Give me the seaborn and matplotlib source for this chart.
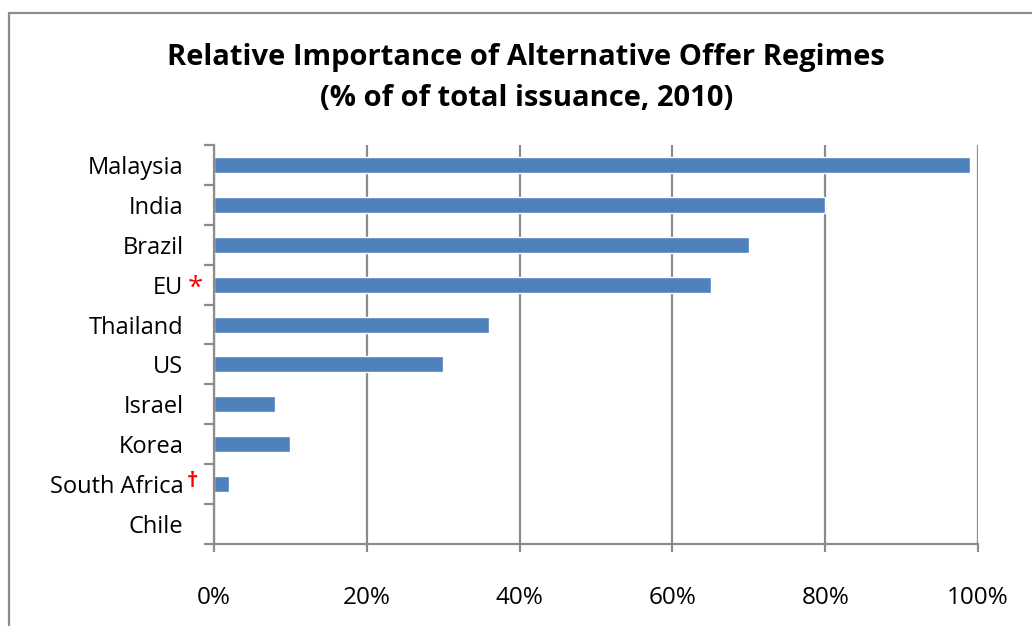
import numpy as np
import pandas as pd
import matplotlib
matplotlib.use("Agg")
import matplotlib.pyplot as plt
from matplotlib.lines import Line2D
from matplotlib.ticker import FixedLocator, PercentFormatter
import seaborn as sns

countries = ["Malaysia", "India", "Brazil", "EU", "Thailand", "US",
             "Israel", "Korea", "South Africa", "Chile"]
shares = [99, 80, 70, 65, 36, 30, 8, 10, 2, 0]
x_ticks = [0, 20, 40, 60, 80, 100]

sns.set_style("white")
plt.rcParams["font.family"] = ["Open Sans", "DejaVu Sans"]
plt.rcParams["text.color"] = "black"
plt.rcParams["xtick.labelcolor"] = "black"
plt.rcParams["ytick.labelcolor"] = "black"

grid_color = "#8c8c8c"
bar_color = "#4F81BD"

fig = plt.figure(figsize=(10.32, 6.26), dpi=100)
ax = fig.add_axes([214 / 1032, 1 - 544 / 626, (978 - 214) / 1032, (544 - 145) / 626])

df = pd.DataFrame({"country": countries, "share": shares})
sns.barplot(data=df, x="share", y="country", orient="h", color=bar_color,
            saturation=1, width=0.4, ax=ax)

ax.set_xlim(0, 100)
ax.set_ylim(len(countries) - 0.5, -0.5)
ax.xaxis.set_major_locator(FixedLocator(x_ticks))
ax.xaxis.set_major_formatter(PercentFormatter(decimals=0))
ax.set_xlabel("")
ax.set_ylabel("")

# vertical gridlines
ax.grid(axis="x", color=grid_color, linewidth=1.6)
ax.set_axisbelow(True)

for side in ["top", "right"]:
    ax.spines[side].set_visible(False)
for side in ["left", "bottom"]:
    ax.spines[side].set_color(grid_color)
    ax.spines[side].set_linewidth(1.6)

# category boundary ticks
ax.yaxis.set_minor_locator(FixedLocator(np.arange(-0.5, len(countries), 1)))
ax.tick_params(axis="y", which="major", length=0, pad=22, labelsize=17)
ax.tick_params(axis="y", which="minor", length=7, width=1.6, color=grid_color, direction="out", left=True)
ax.tick_params(axis="x", which="major", length=6, width=1.6, color=grid_color, direction="out",
               bottom=True, pad=24, labelsize=17.5)

# footnote markers
ax.annotate("*", xy=(0, countries.index("EU")), xycoords=("axes fraction", "data"),
            xytext=(-19, -3), textcoords="offset points", color="red",
            fontsize=20, ha="left", va="center")
ax.annotate("\u2020", xy=(0, countries.index("South Africa")), xycoords=("axes fraction", "data"),
            xytext=(-20, 2), textcoords="offset points", color="red",
            fontsize=16, fontweight="bold", ha="left", va="center")

fig.text(0.51, 1 - 57 / 626, "Relative Importance of Alternative Offer Regimes",
         ha="center", va="center", fontsize=21, fontweight="bold")
fig.text(0.51, 1 - 99 / 626, "(% of of total issuance, 2010)",
         ha="center", va="center", fontsize=21, fontweight="bold")

# outer chart frame (only left and top edges visible)
fig.add_artist(Line2D([9 / 1032, 9 / 1032], [0, 1 - 13 / 626], color=grid_color, linewidth=1.6))
fig.add_artist(Line2D([9 / 1032, 1], [1 - 13 / 626, 1 - 13 / 626], color=grid_color, linewidth=1.6))

fig.savefig("out.png", dpi=100)
